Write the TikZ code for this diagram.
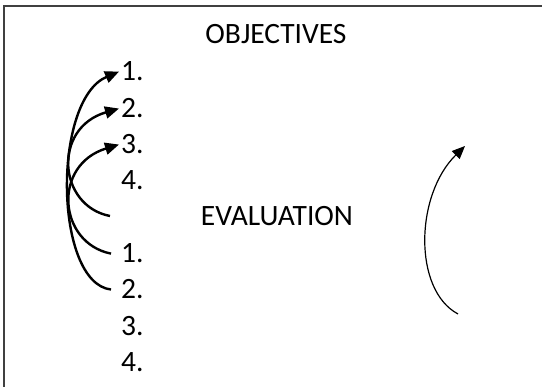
\documentclass[tikz,border=0pt]{standalone}
\usepackage{fontspec}
\setmainfont{Carlito}
\usetikzlibrary{arrows.meta}
\definecolor{framegray}{RGB}{64,64,64}
\begin{document}
\begin{tikzpicture}[x=1pt,y=-1pt,
  numlbl/.style={inner sep=0pt, font=\fontsize{29.5}{35}\selectfont, anchor=base west},
  title/.style={inner sep=0pt, font=\fontsize{29.5}{35}\selectfont, anchor=base},
  link/.style={line width=2.4pt, -{Triangle[length=14pt,width=12pt]}},
  thinlink/.style={line width=1.2pt, -{Triangle[length=13pt,width=11pt]}},
]
\useasboundingbox (0,0) rectangle (542,387);
% frame (top and left edges)
\draw[line width=2pt, framegray] (3.8,387) -- (3.8,5.8) -- (542,5.8);

% headings
\node[title] (obj) at (276,44) {OBJECTIVES};
\node[title] (eval) at (277,226) {EVALUATION};

% objective items
\node[numlbl] (o1) at (121,81) {1.};
\node[numlbl] (o2) at (121,118) {2.};
\node[numlbl] (o3) at (121,154) {3.};
\node[numlbl] (o4) at (121,190) {4.};

% evaluation items
\node[numlbl] (e1) at (121,263) {1.};
\node[numlbl] (e2) at (121,299) {2.};
\node[numlbl] (e3) at (121,336) {3.};
\node[numlbl] (e4) at (121,372) {4.};

% arrow ends
\coordinate (h1) at ([xshift=-2pt]o1.west);
\coordinate (h2) at ([xshift=-2pt]o2.west);
\coordinate (h3) at ([xshift=-2pt]o3.west);
\coordinate (gap) at (110,216);
\coordinate (t1) at ([xshift=-10pt]e1.west);
\coordinate (t2) at ([xshift=-10pt]e2.west);
\coordinate (rtail) at (458,314);
\coordinate (rtip) at (465,146);

% feedback arrows
\draw[link] (t2) .. controls (54,283) and (52,100) .. (h1);
\draw[link] (gap) .. controls (58,206) and (52,128) .. (h2);
\draw[link] (t1) .. controls (58,243) and (52,165) .. (h3);
\draw[thinlink] (rtail) .. controls (413,290) and (415,195) .. (rtip);
\end{tikzpicture}
\end{document}
